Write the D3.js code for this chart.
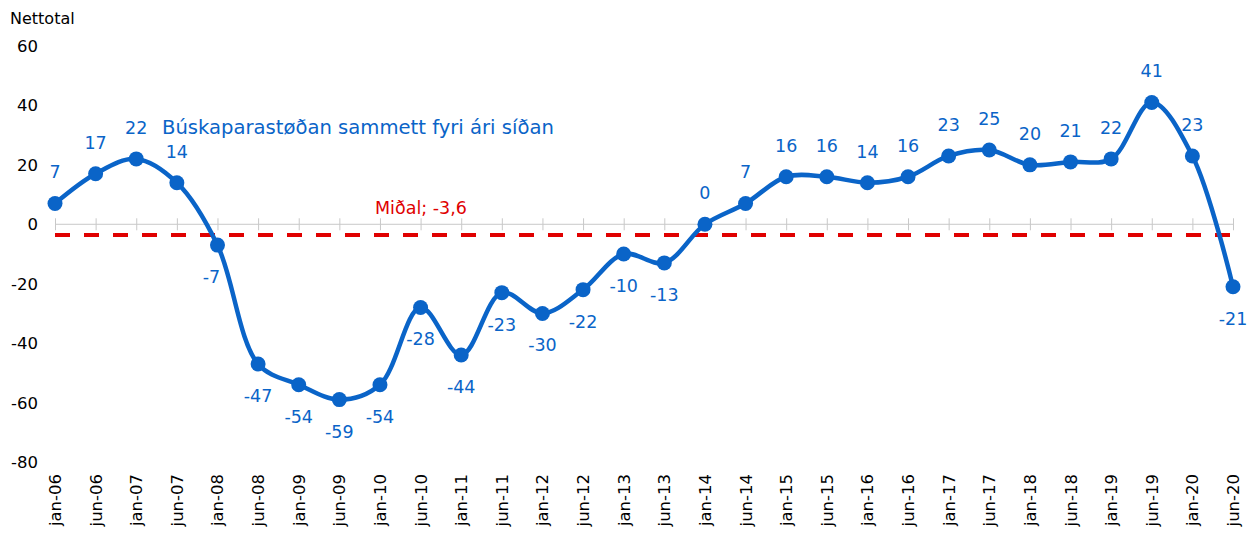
<!DOCTYPE html>
<html lang="fo">
  <head>
    <meta charset="UTF-8" />
    <title>Búskaparastøðan</title>
    <script src="https://cdn.jsdelivr.net/npm/d3@7"></script>
    <style>
      body { margin: 0; background: #fff; }
      svg { display: block; font-family: "DejaVu Sans", Verdana, sans-serif; }
    </style>
  </head>
  <body>
    <svg width="1258" height="534"></svg>
    <script>
      const months = ["jan-06","jun-06","jan-07","jun-07","jan-08","jun-08","jan-09","jun-09","jan-10","jun-10",
        "jan-11","jun-11","jan-12","jun-12","jan-13","jun-13","jan-14","jun-14","jan-15","jun-15",
        "jan-16","jun-16","jan-17","jun-17","jan-18","jun-18","jan-19","jun-19","jan-20","jun-20"];
      const values = [7,17,22,14,-7,-47,-54,-59,-54,-28,-44,-23,-30,-22,-10,-13,0,7,16,16,14,16,23,25,20,21,22,41,23,-21];
      const yTicks = [-80,-60,-40,-20,0,20,40,60];
      const mean = -3.6;

      const blue = "#0a64c8";
      const red = "#e00000";
      const svg = d3.select("svg");

      const x = d3.scalePoint().domain(months).range([55, 1233]);
      const y = d3.scaleLinear().domain([-80, 60]).range([462, 46]);

      // y labels, no axis line
      svg.append("g").selectAll("text").data(yTicks).join("text")
        .attr("x", 38).attr("y", d => y(d) + 6)
        .attr("text-anchor", "end")
        .attr("font-size", 16.5).attr("fill", "#000")
        .text(d => d);

      svg.append("text").attr("x", 10).attr("y", 24)
        .attr("font-size", 16).attr("fill", "#000").text("Nettotal");

      // category axis sits on zero
      const xAxis = d3.axisBottom(x).tickSizeInner(12).tickSizeOuter(0).tickFormat("");
      const gx = svg.append("g").attr("transform", `translate(0,${y(0) - 6})`).call(xAxis);
      gx.select(".domain").remove();
      gx.selectAll("line").attr("stroke", "#c8c8c8");
      svg.append("line")
        .attr("x1", x(months[0])).attr("x2", x(months[months.length - 1]))
        .attr("y1", y(0)).attr("y2", y(0))
        .attr("stroke", "#c8c8c8").attr("stroke-width", 1);

      // rotated month labels at the bottom
      svg.append("g").selectAll("text").data(months).join("text")
        .attr("transform", d => `translate(${x(d) + 6},474) rotate(-90)`)
        .attr("text-anchor", "end")
        .attr("font-size", 16.5).attr("fill", "#000")
        .text(d => d);

      // mean line
      svg.append("line")
        .attr("x1", x(months[0])).attr("x2", x(months[months.length - 1]))
        .attr("y1", y(mean)).attr("y2", y(mean))
        .attr("stroke", red).attr("stroke-width", 4)
        .attr("stroke-dasharray", "15,14");

      svg.append("text").attr("x", 375).attr("y", 214)
        .attr("font-size", 17.5).attr("fill", red).text("Miðal; -3,6");

      const line = d3.line()
        .x((d, i) => x(months[i]))
        .y(d => y(d))
        .curve(d3.curveCatmullRom.alpha(0.5));

      svg.append("path").attr("d", line(values))
        .attr("fill", "none").attr("stroke", blue).attr("stroke-width", 4.5);

      svg.append("g").selectAll("circle").data(values).join("circle")
        .attr("cx", (d, i) => x(months[i])).attr("cy", d => y(d))
        .attr("r", 7.5).attr("fill", blue);

      svg.append("g").selectAll("text").data(values).join("text")
        .attr("x", (d, i) => x(months[i]) - (d === -7 ? 6 : 0))
        .attr("y", d => d >= 0 ? y(d) - 25 : y(d) + 38)
        .attr("text-anchor", "middle")
        .attr("font-size", 17.5).attr("fill", blue)
        .text(d => d);

      svg.append("text").attr("x", 162).attr("y", 134)
        .attr("font-size", 19.6).attr("fill", blue)
        .text("Búskaparastøðan sammett fyri ári síðan");
    </script>
  </body>
</html>
